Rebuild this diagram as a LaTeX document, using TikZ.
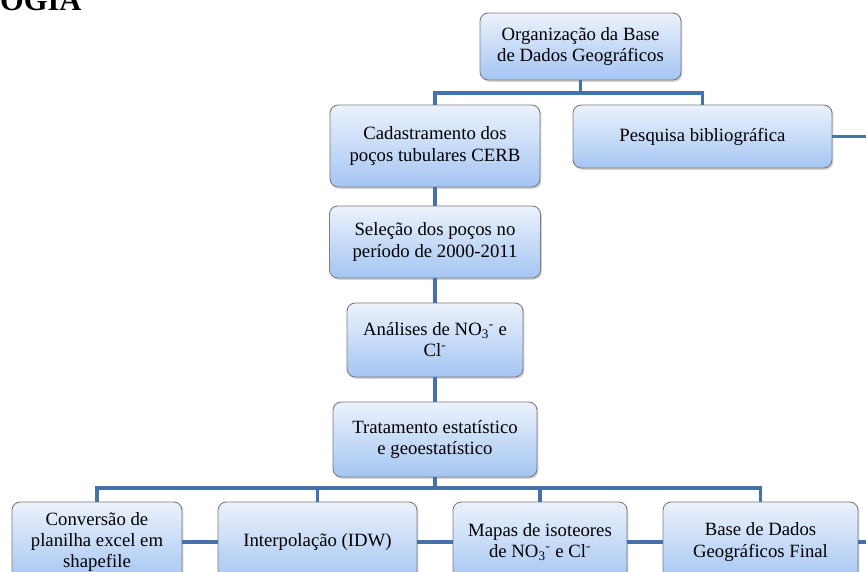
\documentclass[tikz,border=0pt]{standalone}
\usepackage{fontspec}
\setmainfont{Liberation Serif}
\usetikzlibrary{shadows}
\definecolor{boxTop}{RGB}{236,242,252}
\definecolor{boxBot}{RGB}{164,197,243}
\definecolor{boxEdge}{RGB}{125,125,125}
\definecolor{linkB}{RGB}{70,114,170}

\begin{document}
\begin{tikzpicture}[x=0.03cm,y=-0.03cm,
  etapa/.style={draw=boxEdge,line width=0.8pt,rounded corners=7pt,
    top color=boxTop,bottom color=boxBot,
    drop shadow={opacity=0.35,shadow xshift=1.2pt,shadow yshift=-1.5pt},
    align=center,inner sep=2pt,font=\fontsize{16}{18}\selectfont},
  liga/.style={draw=linkB,line width=3pt}]
\useasboundingbox (0,0) rectangle (866,572);
\clip (0,0) rectangle (866,572);
% heading, cut off by the page edge
\node[anchor=base west,inner sep=0pt,font=\fontsize{26}{30}\selectfont\bfseries] (titulo) at (0,11) {OGIA};
\coordinate (barra1) at (0,93);
\coordinate (barra2) at (0,488);
\coordinate (borda) at (866,0);
% boxes
\node[etapa,minimum width=6.03cm,minimum height=2.01cm] (org) at (580.5,46.5) {Organização da Base\\de Dados Geográficos};
\node[etapa,minimum width=6.3cm,minimum height=2.46cm] (cad) at (435,146) {Cadastramento dos\\poços tubulares CERB};
\node[etapa,minimum width=7.77cm,minimum height=1.89cm] (pesq) at (702.5,136.5) {Pesquisa bibliográfica};
\node[etapa,minimum width=6.33cm,minimum height=2.16cm] (sel) at (435,242) {Seleção dos poços no\\período de 2000-2011};
\node[etapa,minimum width=5.28cm,minimum height=2.22cm] (ana) at (435,340) {Análises de NO\textsubscript{3}\textsuperscript{-} e\\Cl\textsuperscript{-}};
\node[etapa,minimum width=6.12cm,minimum height=2.25cm] (trat) at (435,439.5) {Tratamento estatístico\\e geoestatístico};
\node[etapa,minimum width=5.1cm,minimum height=2.4cm] (conv) at (97,542) {Conversão de\\planilha excel em\\shapefile};
\node[etapa,minimum width=5.97cm,minimum height=2.4cm] (interp) at (317.5,542) {Interpolação (IDW)};
\node[etapa,minimum width=5.22cm,minimum height=2.4cm] (mapas) at (540,542) {Mapas de isoteores\\de NO\textsubscript{3}\textsuperscript{-} e Cl\textsuperscript{-}};
\node[etapa,minimum width=5.85cm,minimum height=2.4cm] (fim) at (760.5,542) {Base de Dados\\Geográficos Final};
% connectors
\draw[liga] (org.south) -- (org.south|-barra1) -| (cad.north);
\draw[liga] (org.south|-barra1) -| (pesq.north);
\draw[liga] (pesq.east) -- (pesq.east-|borda);
\draw[liga] (cad.south) -- (sel.north);
\draw[liga] (sel.south) -- (ana.north);
\draw[liga] (ana.south) -- (trat.north);
\draw[liga] (trat.south) -- (trat.south|-barra2) -| (conv.north);
\foreach \b in {interp,mapas,fim}
  \draw[liga] (trat.south|-barra2) -| (\b.north);
\draw[liga] (conv) -- (interp);
\draw[liga] (interp) -- (mapas);
\draw[liga] (mapas) -- (fim);
\draw[liga] (fim.east) -- (fim.east-|borda);
\end{tikzpicture}
\end{document}
